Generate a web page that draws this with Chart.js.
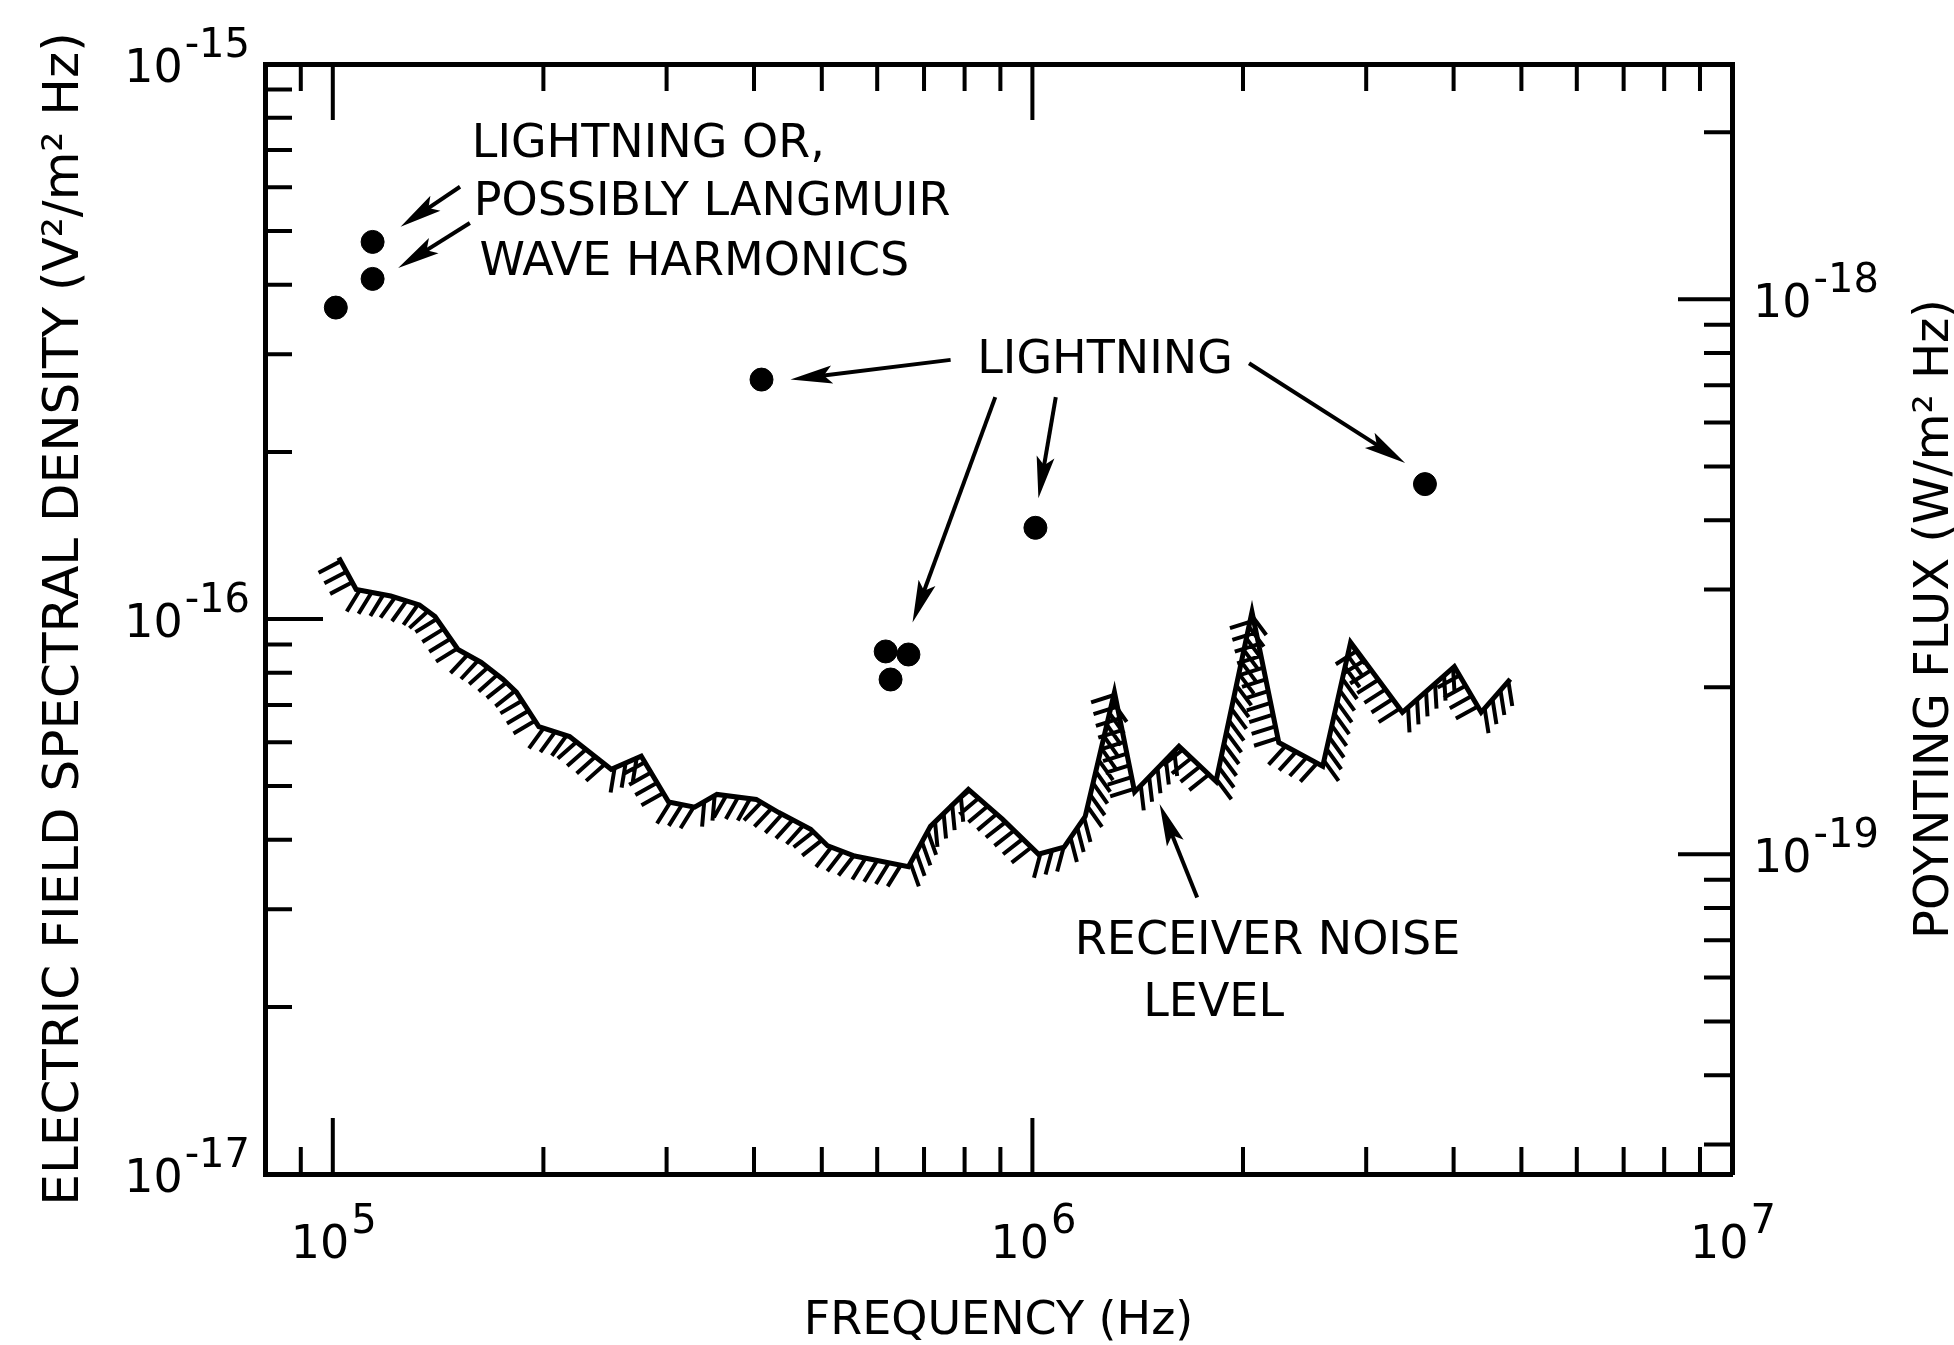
<!DOCTYPE html>
<html>
<head>
<meta charset="utf-8">
<title>Electric field spectral density</title>
<script src="https://cdn.jsdelivr.net/npm/chart.js@4.4.1/dist/chart.umd.min.js"></script>
<style>
  html, body { margin: 0; padding: 0; background: #fff; }
</style>
</head>
<body>
<canvas id="chart" width="1954" height="1345"></canvas>
<script>
  const FONT = '"DejaVu Sans", sans-serif';
  const Z0 = 376.7; // free-space impedance, E^2 -> Poynting flux

  // receiver noise level
  const noiseFreq = [1.02e5, 1.08e5, 1.21e5, 1.33e5, 1.40e5, 1.51e5, 1.63e5, 1.75e5, 1.83e5, 1.97e5,
    2.18e5, 2.50e5, 2.76e5, 3.02e5, 3.29e5, 3.54e5, 4.03e5, 4.34e5, 4.82e5, 5.10e5,
    5.57e5, 6.65e5, 7.15e5, 8.10e5, 9.06e5, 1.02e6, 1.11e6, 1.19e6, 1.31e6, 1.40e6,
    1.62e6, 1.83e6, 2.06e6, 2.25e6, 2.60e6, 2.85e6, 3.38e6, 4.01e6, 4.38e6, 4.82e6];
  const noiseLevel = [1.29e-16, 1.13e-16, 1.10e-16, 1.06e-16, 1.01e-16, 8.81e-17, 8.35e-17, 7.79e-17, 7.38e-17, 6.40e-17,
    6.14e-17, 5.36e-17, 5.66e-17, 4.68e-17, 4.58e-17, 4.83e-17, 4.73e-17, 4.48e-17, 4.18e-17, 3.90e-17,
    3.74e-17, 3.58e-17, 4.23e-17, 4.93e-17, 4.36e-17, 3.77e-17, 3.88e-17, 4.41e-17, 7.38e-17, 4.88e-17,
    5.90e-17, 5.10e-17, 1.03e-16, 5.99e-17, 5.43e-17, 9.08e-17, 6.79e-17, 8.21e-17, 6.79e-17, 7.79e-17];

  // lightning / Langmuir harmonic events
  const dotFreq = [1.01e5, 1.14e5, 1.14e5, 4.10e5, 6.17e5, 6.65e5, 6.27e5, 1.01e6, 3.64e6];
  const dotLevel = [3.64e-16, 4.10e-16, 4.78e-16, 2.70e-16, 8.74e-17, 8.63e-17, 7.78e-17, 1.46e-16, 1.75e-16];

  // tick labels (powers of ten)
  const freqExp = [5, 6, 7];
  const fieldExp = [-15, -16, -17];
  const fluxExp = [-18, -19];
  const minorSteps = [2, 3, 4, 5, 6, 7, 8, 9];

  // notes: text, anchor (left, baseline)
  const noteText = ['LIGHTNING OR,', 'POSSIBLY LANGMUIR', 'WAVE HARMONICS', 'LIGHTNING', 'RECEIVER NOISE', 'LEVEL'];
  const noteFreq = [1.58e5, 1.59e5, 1.62e5, 8.34e5, 1.15e6, 1.44e6];
  const noteLevel = [6.80e-16, 5.35e-16, 4.17e-16, 2.78e-16, 2.49e-17, 1.93e-17];

  // arrows [freq, level], tail -> head
  const arrowFrom = [[1.52e5, 6.01e-16], [1.57e5, 5.17e-16], [7.64e5, 2.93e-16], [8.85e5, 2.51e-16],
    [1.08e6, 2.51e-16], [2.04e6, 2.89e-16], [1.72e6, 3.15e-17]];
  const arrowTo = [[1.25e5, 5.09e-16], [1.24e5, 4.29e-16], [4.51e5, 2.70e-16], [6.74e5, 9.86e-17],
    [1.02e6, 1.65e-16], [3.41e6, 1.91e-16], [1.52e6, 4.64e-17]];

  const decades = exps => exps.map(e => Math.pow(10, e));
  const minors = (lo, hi) => {
    const out = [];
    for (let e = lo; e <= hi; e++) minorSteps.forEach(m => out.push(m * Math.pow(10, e)));
    return out;
  };

  const sketch = {
    id: 'sketch',
    afterDatasetsDraw(chart) {
      const { ctx, chartArea: a, scales } = chart;
      const sx = scales.x, sy = scales.y, sy2 = scales.y2;
      ctx.save();
      ctx.strokeStyle = '#000';
      ctx.fillStyle = '#000';

      // hatching under the noise curve
      const pts = chart.getDatasetMeta(0).data;
      const step = 12, len = 25;
      let carry = 4;
      ctx.lineWidth = 4;
      ctx.beginPath();
      for (let i = 0; i < pts.length - 1; i++) {
        const p = pts[i], q = pts[i + 1];
        const dx = q.x - p.x, dy = q.y - p.y, L = Math.hypot(dx, dy);
        const ux = dx / L, uy = dy / L;
        let hx = -uy - 0.6, hy = ux + 0.3;
        const h = Math.hypot(hx, hy);
        hx /= h; hy /= h;
        let s = carry;
        while (s < L) {
          const px = p.x + ux * s, py = p.y + uy * s;
          ctx.moveTo(px, py);
          ctx.lineTo(px + hx * len, py + hy * len);
          s += step;
        }
        carry = s - L;
      }
      ctx.stroke();

      // inward tick marks
      ctx.lineWidth = 4;
      ctx.beginPath();
      const inside = (v, lo, hi) => v > lo * 1.001 && v < hi * 0.999;
      const xTicks = decades(freqExp).map(v => [v, 56]).concat(minors(4, 6).map(v => [v, 27]));
      xTicks.forEach(([v, t]) => {
        if (!inside(v, sx.min, sx.max)) return;
        const px = sx.getPixelForValue(v);
        ctx.moveTo(px, a.bottom); ctx.lineTo(px, a.bottom - t);
        ctx.moveTo(px, a.top); ctx.lineTo(px, a.top + t);
      });
      const yTicks = decades(fieldExp).map(v => [v, 58]).concat(minors(-17, -16).map(v => [v, 27]));
      yTicks.forEach(([v, t]) => {
        if (!inside(v, sy.min, sy.max)) return;
        const py = sy.getPixelForValue(v);
        ctx.moveTo(a.left, py); ctx.lineTo(a.left + t, py);
      });
      const y2Ticks = decades(fluxExp).map(v => [v, 54]).concat(minors(-20, -18).map(v => [v, 28]));
      y2Ticks.forEach(([v, t]) => {
        if (!inside(v, sy2.min, sy2.max)) return;
        const py = sy2.getPixelForValue(v);
        ctx.moveTo(a.right, py); ctx.lineTo(a.right - t, py);
      });
      ctx.stroke();

      // power-of-ten labels
      const base = `46px ${FONT}`, sup = `40px ${FONT}`;
      const power = (e, px, py, align) => {
        const txt = String(e);
        ctx.font = base; const wb = ctx.measureText('10').width;
        ctx.font = sup; const we = ctx.measureText(txt).width;
        let x0 = px;
        if (align === 'center') x0 = px - (wb + we) / 2;
        if (align === 'right') x0 = px - wb - we - 2;
        ctx.textAlign = 'left';
        ctx.textBaseline = 'alphabetic';
        ctx.font = base; ctx.fillText('10', x0, py);
        ctx.font = sup; ctx.fillText(txt, x0 + wb + 2, py - 25);
      };
      freqExp.forEach(e => power(e, sx.getPixelForValue(Math.pow(10, e)), a.bottom + 84, 'center'));
      fieldExp.forEach(e => power(e, a.left - 15, sy.getPixelForValue(Math.pow(10, e)) + 18, 'right'));
      fluxExp.forEach(e => power(e, a.right + 21, sy2.getPixelForValue(Math.pow(10, e)) + 18, 'left'));

      // arrows
      arrowFrom.forEach((f, i) => {
        const t = arrowTo[i];
        const x0 = sx.getPixelForValue(f[0]), y0 = sy.getPixelForValue(f[1]);
        const x1 = sx.getPixelForValue(t[0]), y1 = sy.getPixelForValue(t[1]);
        const ang = Math.atan2(y1 - y0, x1 - x0), c = Math.cos(ang), s = Math.sin(ang);
        const hl = 42, hw = 9;
        ctx.lineWidth = 4;
        ctx.beginPath();
        ctx.moveTo(x0, y0);
        ctx.lineTo(x1 - c * hl * 0.7, y1 - s * hl * 0.7);
        ctx.stroke();
        ctx.beginPath();
        ctx.moveTo(x1, y1);
        ctx.lineTo(x1 - c * hl - s * hw, y1 - s * hl + c * hw);
        ctx.lineTo(x1 - c * hl * 0.8, y1 - s * hl * 0.8);
        ctx.lineTo(x1 - c * hl + s * hw, y1 - s * hl - c * hw);
        ctx.closePath();
        ctx.fill();
      });

      // notes
      ctx.font = `46px ${FONT}`;
      ctx.textAlign = 'left';
      ctx.textBaseline = 'alphabetic';
      noteText.forEach((t, i) => {
        ctx.fillText(t, sx.getPixelForValue(noteFreq[i]), sy.getPixelForValue(noteLevel[i]));
      });

      // right-hand axis title, reading upward like the left one
      ctx.font = `48px ${FONT}`;
      ctx.textAlign = 'center';
      ctx.translate(a.right + 216, (a.top + a.bottom) / 2);
      ctx.rotate(-Math.PI / 2);
      ctx.fillText('POYNTING FLUX (W/m² Hz)', 0, 0);
      ctx.restore();
    }
  };

  const frame = { display: true, color: '#000', width: 5 };
  const bare = { display: false, drawTicks: false };

  new Chart(document.getElementById('chart'), {
    type: 'scatter',
    data: {
      datasets: [
        {
          data: noiseFreq.map((f, i) => ({ x: f, y: noiseLevel[i] })),
          showLine: true,
          borderColor: '#000',
          borderWidth: 5,
          tension: 0,
          pointRadius: 0
        },
        {
          data: dotFreq.map((f, i) => ({ x: f, y: dotLevel[i] })),
          showLine: false,
          pointRadius: 11.5,
          pointBackgroundColor: '#000',
          pointBorderColor: '#000',
          pointBorderWidth: 1
        }
      ]
    },
    options: {
      responsive: false,
      animation: false,
      layout: { padding: { left: 0, right: 222, top: 64, bottom: 0 } },
      plugins: { legend: { display: false }, tooltip: { enabled: false } },
      scales: {
        x: {
          type: 'logarithmic', position: 'bottom', min: 8e4, max: 1e7,
          grid: bare, border: frame, ticks: { display: false },
          title: {
            display: true, text: 'FREQUENCY (Hz)', color: '#000',
            font: { family: FONT, size: 46, lineHeight: 1 },
            padding: { top: 125, bottom: 0 }
          }
        },
        x2: {
          type: 'logarithmic', position: 'top', min: 8e4, max: 1e7,
          grid: bare, border: frame, ticks: { display: false }
        },
        y: {
          type: 'logarithmic', position: 'left', min: 1e-17, max: 1e-15,
          grid: bare, border: frame, ticks: { display: false },
          title: {
            display: true, text: 'ELECTRIC FIELD SPECTRAL DENSITY (V²/m² Hz)', color: '#000',
            font: { family: FONT, size: 50, lineHeight: 1 },
            padding: { top: 40, bottom: 175 }
          }
        },
        y2: {
          type: 'logarithmic', position: 'right', min: 1e-17 / Z0, max: 1e-15 / Z0,
          grid: bare, border: frame, ticks: { display: false }
        }
      }
    },
    plugins: [sketch]
  });
</script>
</body>
</html>
